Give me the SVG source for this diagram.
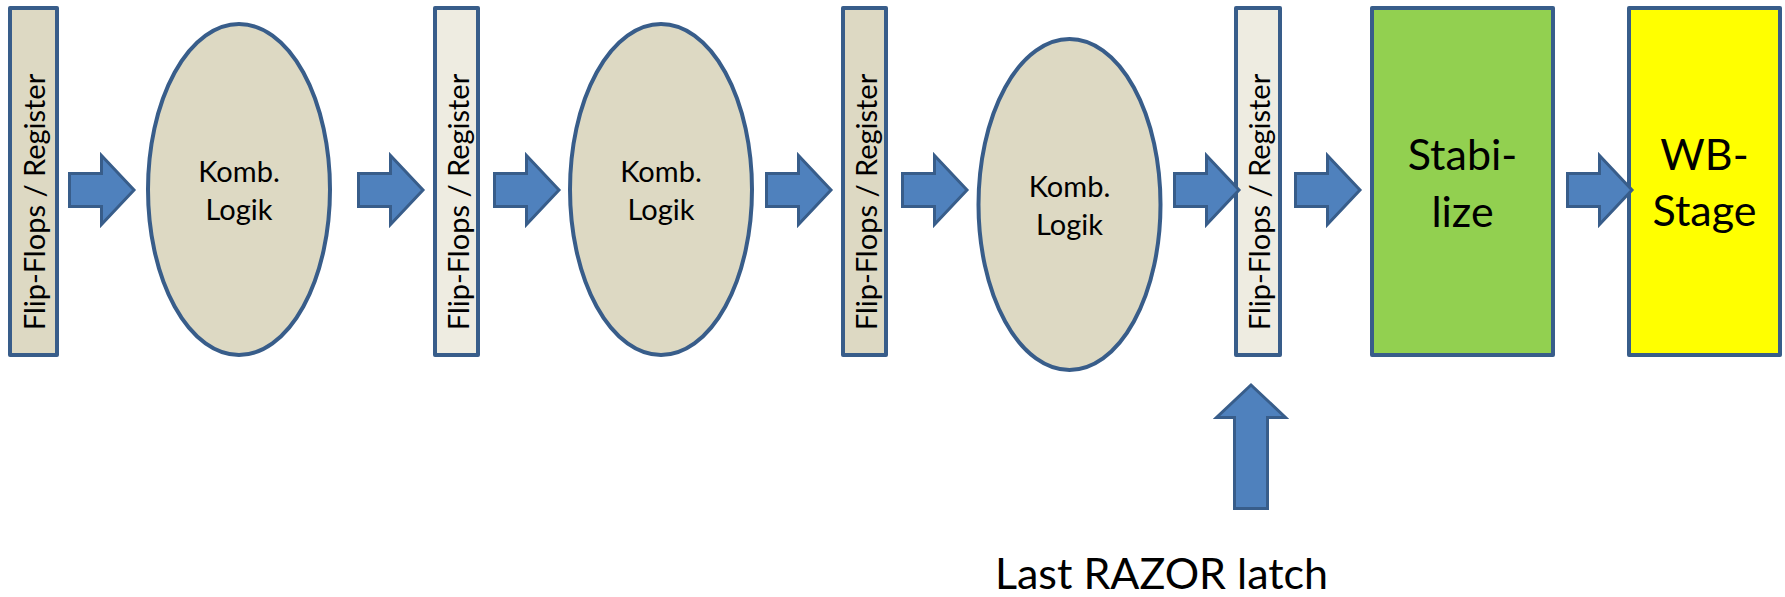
<svg xmlns="http://www.w3.org/2000/svg" width="1785" height="597" viewBox="0 0 1785 597">
  <defs>
    <style>
      .reg { stroke: #385d8a; stroke-width: 4; stroke-linejoin: round; }
      .reg-dark { fill: #ddd9c3; }
      .reg-light { fill: #eeece1; }
      .logic { fill: #ddd9c3; stroke: #385d8a; stroke-width: 4; }
      .stage { stroke: #385d8a; stroke-width: 4; stroke-linejoin: round; }
      .arrow { fill: #4f81bd; stroke: #385d8a; stroke-width: 3; stroke-linejoin: miter; }
      .t { font-family: Lato, "Liberation Sans", sans-serif; fill: #000; }
      .small { font-size: 29px; }
      .big { font-size: 43px; }
    </style>
    <!-- block arrow pointing along +x, origin at left end of shaft centre line -->
    <path id="arrowH" d="M1.5,-16.5 H33.5 V-34.5 L66,0 L33.5,34.5 V16.5 H1.5 Z"/>
    <path id="arrowLong" d="M1.5,-16.5 H92.5 V-34.5 L125,0 L92.5,34.5 V16.5 H1.5 Z"/>
  </defs>

  <rect width="1785" height="597" fill="#ffffff"/>

  <!-- pipeline register 1 -->
  <g id="reg1">
    <rect class="reg reg-dark" x="10" y="8" width="47" height="347"/>
    <text class="t small" transform="translate(45,202) rotate(-90)" text-anchor="middle">Flip-Flops / Register</text>
  </g>

  <!-- combinational logic 1 -->
  <g id="logic1">
    <ellipse class="logic" cx="239" cy="189.5" rx="91" ry="165.5"/>
    <text class="t small" x="239" y="182" text-anchor="middle">Komb.</text>
    <text class="t small" x="239" y="220" text-anchor="middle">Logik</text>
  </g>

  <!-- pipeline register 2 -->
  <g id="reg2">
    <rect class="reg reg-light" x="435" y="8" width="43" height="347"/>
    <text class="t small" transform="translate(469,202) rotate(-90)" text-anchor="middle">Flip-Flops / Register</text>
  </g>

  <!-- combinational logic 2 -->
  <g id="logic2">
    <ellipse class="logic" cx="661" cy="189.5" rx="91" ry="165.5"/>
    <text class="t small" x="661" y="182" text-anchor="middle">Komb.</text>
    <text class="t small" x="661" y="220" text-anchor="middle">Logik</text>
  </g>

  <!-- pipeline register 3 -->
  <g id="reg3">
    <rect class="reg reg-dark" x="843" y="8" width="43" height="347"/>
    <text class="t small" transform="translate(877,202) rotate(-90)" text-anchor="middle">Flip-Flops / Register</text>
  </g>

  <!-- combinational logic 3 -->
  <g id="logic3">
    <ellipse class="logic" cx="1069.5" cy="204.5" rx="91" ry="165.5"/>
    <text class="t small" x="1069.5" y="197" text-anchor="middle">Komb.</text>
    <text class="t small" x="1069.5" y="235" text-anchor="middle">Logik</text>
  </g>

  <!-- pipeline register 4 (last RAZOR latch) -->
  <g id="reg4">
    <rect class="reg reg-light" x="1236" y="8" width="44" height="347"/>
    <text class="t small" transform="translate(1270,202) rotate(-90)" text-anchor="middle">Flip-Flops / Register</text>
  </g>

  <!-- stabilize stage -->
  <g id="stabilize">
    <rect class="stage" fill="#92d050" x="1372" y="8" width="181" height="347"/>
    <text class="t big" x="1462.5" y="170" text-anchor="middle">Stabi-</text>
    <text class="t big" x="1462.5" y="227" text-anchor="middle">lize</text>
  </g>

  <!-- write-back stage -->
  <g id="wb">
    <rect class="stage" fill="#ffff00" x="1629" y="8" width="151" height="347"/>
    <text class="t big" x="1704.5" y="170" text-anchor="middle">WB-</text>
    <text class="t big" x="1704.5" y="226" text-anchor="middle">Stage</text>
  </g>

  <!-- caption under the latch arrow -->
  <g id="caption">
    <text class="t big" x="1161.5" y="589" text-anchor="middle">Last RAZOR latch</text>
  </g>

  <!-- data-flow arrows -->
  <g id="connectors">
    <use href="#arrowH" class="arrow" transform="translate(68,190)"/>
    <use href="#arrowH" class="arrow" transform="translate(357,190)"/>
    <use href="#arrowH" class="arrow" transform="translate(493,190)"/>
    <use href="#arrowH" class="arrow" transform="translate(765,190)"/>
    <use href="#arrowH" class="arrow" transform="translate(901,190)"/>
    <use href="#arrowH" class="arrow" transform="translate(1173,190)"/>
    <use href="#arrowH" class="arrow" transform="translate(1294,190)"/>
    <use href="#arrowH" class="arrow" transform="translate(1566,190)"/>
    <use href="#arrowLong" class="arrow" transform="translate(1251,510) rotate(-90)"/>
  </g>
</svg>
